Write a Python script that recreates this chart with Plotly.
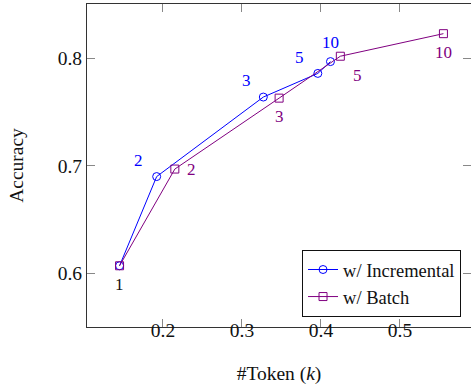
import plotly.graph_objects as go

# Data
inc_tokens = [0.145, 0.192, 0.327, 0.396, 0.412]
inc_acc = [0.607, 0.690, 0.764, 0.786, 0.797]
inc_labels = ["1", "2", "3", "5", "10"]

bat_tokens = [0.145, 0.215, 0.347, 0.4245, 0.555]
bat_acc = [0.607, 0.697, 0.763, 0.802, 0.823]
bat_labels = ["1", "2", "3", "5", "10"]

x_ticks = [0.2, 0.3, 0.4, 0.5]
y_ticks = [0.6, 0.7, 0.8]

BLUE = "#0000FF"
PURPLE = "#800080"
FONT = "Liberation Serif"

fig = go.Figure()
fig.add_trace(go.Scatter(
    x=inc_tokens, y=inc_acc, mode="lines+markers", name="w/ Incremental",
    line=dict(color=BLUE, width=1),
    marker=dict(symbol="circle-open", size=8, color=BLUE, line=dict(width=1, color=BLUE)),
))
fig.add_trace(go.Scatter(
    x=bat_tokens, y=bat_acc, mode="lines+markers", name="w/ Batch",
    line=dict(color=PURPLE, width=1),
    marker=dict(symbol="square-open", size=8, color=PURPLE, line=dict(width=1, color=PURPLE)),
))

# label styling (offsets in px)
inc_off = [None, (-18, 16), (-17, 17), (-18, 16), (0, 19)]
bat_off = [(0, -19), (17, 0), (0, -18), (17, -19), (0, -19)]
for i, (x, y, t) in enumerate(zip(inc_tokens, inc_acc, inc_labels)):
    if inc_off[i] is None:
        continue
    dx, dy = inc_off[i]
    fig.add_annotation(x=x, y=y, text=t, showarrow=False, xshift=dx, yshift=dy,
                       font=dict(family=FONT, size=17, color=BLUE))
for i, (x, y, t) in enumerate(zip(bat_tokens, bat_acc, bat_labels)):
    dx, dy = bat_off[i]
    col = "#111111" if i == 0 else PURPLE
    fig.add_annotation(x=x, y=y, text=t, showarrow=False, xshift=dx, yshift=dy,
                       font=dict(family=FONT, size=17, color=col))

axis_common = dict(
    showgrid=False, zeroline=False, showline=True, linecolor="#333333", linewidth=1,
    ticks="inside", ticklen=8, tickcolor="#888888", tickwidth=1, mirror="ticks",
    tickfont=dict(family=FONT, size=19.5, color="#111111"),
)
fig.update_xaxes(range=[0.1038, 0.5899], tickvals=x_ticks, ticktext=[str(v) for v in x_ticks],
                 ticklabelstandoff=-14,
                 title=dict(text="#Token (<i>k</i>)", font=dict(family=FONT, size=19.5, color="#111111"), standoff=25),
                 **axis_common)
fig.update_yaxes(range=[0.55, 0.8506], tickvals=y_ticks, ticktext=[str(v) for v in y_ticks],
                 title=dict(text="Accuracy", font=dict(family=FONT, size=19.5, color="#111111"), standoff=28),
                 **axis_common)

fig.update_layout(
    width=471, height=388,
    margin=dict(l=87, r=0, t=4, b=61),
    plot_bgcolor="white", paper_bgcolor="white",
    font=dict(family=FONT, size=19.5, color="#111111"),
    legend=dict(x=0.974, y=0.031, xanchor="right", yanchor="bottom",
                bordercolor="#111111", borderwidth=1, bgcolor="white",
                font=dict(family=FONT, size=18.5, color="#111111"),
                tracegroupgap=0, itemwidth=30),
    showlegend=True,
)

fig.write_html("out.html", config={"displayModeBar": False},
               post_script="document.body.style.margin='0';document.body.style.padding='0';")
